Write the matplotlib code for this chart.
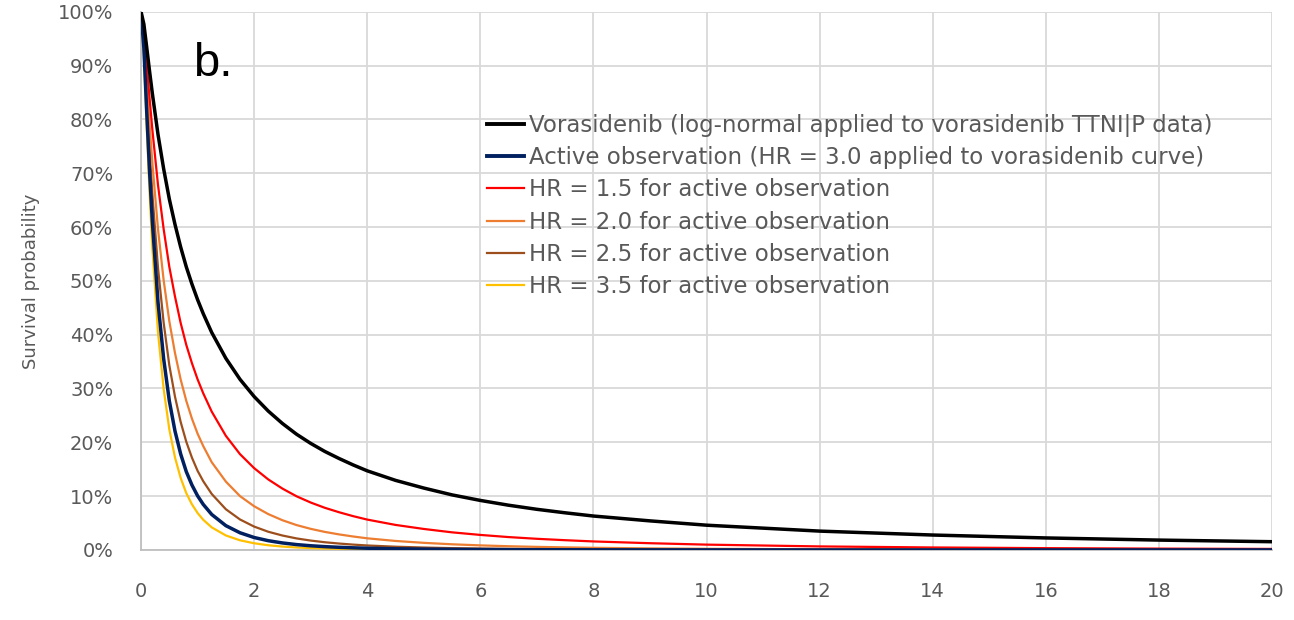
#!/usr/bin/env python3
'''survival curves: vorasidenib vs active observation under several hazard ratios'''
import numpy as np
import matplotlib.pyplot as plt
from matplotlib.ticker import PercentFormatter

# time (years)
years = [0, 0.05, 0.1, 0.15, 0.2, 0.3, 0.4, 0.5, 0.6, 0.7, 0.8, 0.9, 1, 1.1,
         1.25, 1.5, 1.75, 2, 2.25, 2.5, 2.75, 3, 3.25, 3.5, 3.75, 4, 4.5, 5,
         5.5, 6, 6.5, 7, 7.5, 8, 9, 10, 12, 14, 16, 18, 20]

vorasidenib = [1.0, 0.977, 0.934, 0.890, 0.848, 0.772, 0.708, 0.652, 0.605,
               0.563, 0.526, 0.494, 0.465, 0.439, 0.404, 0.356, 0.317, 0.285,
               0.258, 0.235, 0.215, 0.198, 0.183, 0.170, 0.158, 0.147, 0.1293,
               0.115, 0.1023, 0.092, 0.0831, 0.0755, 0.069, 0.063, 0.054,
               0.046, 0.035, 0.0277, 0.0223, 0.0183, 0.0153]
active_obs = [1.0, 0.9325, 0.815, 0.705, 0.610, 0.460, 0.355, 0.277, 0.221,
              0.1785, 0.1455, 0.1206, 0.1005, 0.0846, 0.0659, 0.0451, 0.0319,
              0.0231, 0.01717, 0.0130, 0.00994, 0.00776, 0.00613, 0.00491,
              0.00394, 0.00318, 0.00216, 0.00152, 0.00107, 0.00078, 0.00057,
              0.00043, 0.00033, 0.00025, 0.00016, 0.0001, 0.00004, 0.00002,
              0.00001, 0.00001, 0.0]
hr_15 = [1.0, 0.966, 0.903, 0.840, 0.781, 0.678, 0.596, 0.526, 0.471, 0.422,
         0.381, 0.347, 0.317, 0.291, 0.257, 0.212, 0.178, 0.152, 0.131, 0.114,
         0.0997, 0.0881, 0.0783, 0.0701, 0.0628, 0.0564, 0.0465, 0.0390,
         0.0327, 0.0279, 0.0239, 0.0207, 0.0181, 0.0158, 0.0125, 0.00987,
         0.00655, 0.00461, 0.00333, 0.00247, 0.00189]
hr_20 = [1.0, 0.955, 0.872, 0.792, 0.719, 0.596, 0.501, 0.425, 0.366, 0.317,
         0.277, 0.244, 0.216, 0.193, 0.163, 0.127, 0.100, 0.0812, 0.0666,
         0.0552, 0.0462, 0.0392, 0.0335, 0.0289, 0.0250, 0.0216, 0.0167,
         0.0132, 0.0105, 0.00846, 0.0069, 0.0057, 0.00476, 0.00397, 0.00292,
         0.00212, 0.00123, 0.00077, 0.0005, 0.00033, 0.00023]
hr_25 = [1.0, 0.943, 0.843, 0.747, 0.662, 0.524, 0.422, 0.343, 0.285, 0.238,
         0.201, 0.1715, 0.147, 0.1277, 0.104, 0.0756, 0.0566, 0.0434, 0.0338,
         0.0268, 0.0214, 0.0174, 0.0143, 0.0119, 0.00992, 0.00829, 0.00601,
         0.00449, 0.00335, 0.00257, 0.00199, 0.00157, 0.00125, 0.001,
         0.00068, 0.00045, 0.00023, 0.00013, 0.00007, 0.00005, 0.00003]
hr_35 = [1.0, 0.922, 0.787, 0.665, 0.562, 0.404, 0.299, 0.224, 0.172, 0.1339,
         0.1055, 0.0847, 0.0686, 0.0560, 0.0419, 0.0269, 0.0179, 0.0124,
         0.00872, 0.00629, 0.00461, 0.00346, 0.00262, 0.00202, 0.00157,
         0.00122, 0.00078, 0.00052, 0.00034, 0.00024, 0.00017, 0.00012,
         0.00009, 0.00006, 0.00004, 0.00002, 0.0, 0.0, 0.0, 0.0, 0.0]

labels = ['Vorasidenib (log-normal applied to vorasidenib TTNI|P data)',
          'Active observation (HR = 3.0 applied to vorasidenib curve)',
          'HR = 1.5 for active observation',
          'HR = 2.0 for active observation',
          'HR = 2.5 for active observation',
          'HR = 3.5 for active observation']


def curves():
    '''survival probability over time'''
    fig = plt.figure(figsize=(12.94, 6.2), dpi=100)
    ax = fig.add_axes([0.109, 0.113, 0.874, 0.868])

    series = [vorasidenib, active_obs, hr_15, hr_20, hr_25, hr_35]
    colors = ['black', '#002060', '#ff0000', '#ed7d31', '#9c4f1c', '#ffc000']
    widths = [2.5, 2.5, 1.6, 1.6, 1.6, 1.6]
    zorders = [9, 8, 7, 6, 5, 4]
    handles = []
    for s, c, w, z, lab in zip(series, colors, widths, zorders, labels):
        line, = ax.plot(years, s, color=c, lw=w, label=lab,
                        solid_joinstyle='round', zorder=z)
        handles.append(line)

    ax.set_xlim(0, 20)
    ax.set_ylim(0, 1)
    ax.set_xticks(np.arange(0, 21, 2))
    ax.set_yticks(np.arange(0, 1.01, 0.1))
    ax.yaxis.set_major_formatter(PercentFormatter(1.0, decimals=0))
    ax.tick_params(length=0, labelsize=14, labelcolor='#595959')
    ax.tick_params(axis='y', pad=20)
    ax.tick_params(axis='x', pad=23)
    ax.grid(color='#d9d9d9', lw=1.3)
    ax.set_axisbelow(True)
    for side in ['top', 'right']:
        ax.spines[side].set_visible(False)
    for side in ['left', 'bottom']:
        ax.spines[side].set_color('#bfbfbf')
        ax.spines[side].set_linewidth(1.3)

    ax.set_ylabel('Survival probability', fontsize=13, color='#595959',
                  labelpad=13)
    ax.text(0.046, 0.944, 'b.', transform=ax.transAxes, fontsize=34,
            family='Liberation Sans', va='top', ha='left')

    leg = ax.legend(handles, labels, loc='upper left',
                    bbox_to_anchor=(0.298, 0.827), frameon=False,
                    fontsize=16.5, labelcolor='#595959', handlelength=1.6,
                    handletextpad=0.22, labelspacing=0.4, borderaxespad=0)
    for i, h in enumerate(leg.legend_handles):
        h.set_linewidth(2.8 if i < 2 else 1.6)

    fig.savefig('out.png', dpi=100)


curves()
